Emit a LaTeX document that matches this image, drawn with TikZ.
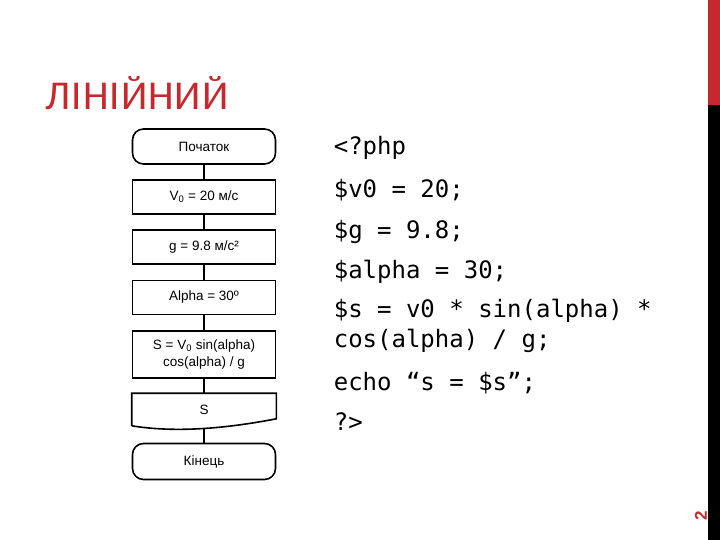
\documentclass[tikz,border=0pt]{standalone}
\usepackage{fontspec}
\setmainfont{Liberation Sans}
\newfontfamily\titlefont{Carlito}
\newfontfamily\codefont{DejaVu Sans Mono}
\usetikzlibrary{calc}
\definecolor{slidered}{RGB}{200,40,45}
\tikzset{
  flowterm/.style={draw,rounded corners=11pt,minimum width=143pt,minimum height=35pt,inner sep=1pt,font=\fontsize{13.5}{16}\selectfont},
  flowproc/.style={draw,minimum width=143pt,minimum height=34pt,inner sep=1pt,font=\fontsize{13.5}{17}\selectfont,align=center},
  flowdoc/.style={minimum width=143pt,minimum height=31pt,inner sep=1pt,font=\fontsize{13.5}{16}\selectfont},
  codeline/.style={anchor=base west,font=\codefont\fontsize{24}{30}\selectfont,inner sep=0pt,align=left}
}

\begin{document}
\begin{tikzpicture}[x=1pt,y=-1pt,line width=1.6pt]
        % slide frame and side bar
        \useasboundingbox (0,0) rectangle (720,540);
        \fill[slidered] (708,0) rectangle (720,105);
        \fill[black] (708,105) rectangle (720,540);
        \node[rotate=90,text=slidered,font=\bfseries\fontsize{17}{17}\selectfont,inner sep=0pt] (pagenum) at (701,516) {2};
        \node[anchor=base west,text=slidered,font=\titlefont\fontsize{41}{41}\selectfont,inner sep=0pt] (title) at (45,110) {Л\kern1ptІ\kern1ptН\kern1ptІ\kern1ptЙ\kern1ptН\kern1ptИ\kern1ptЙ};
        % flowchart
        \node[flowterm] (start) at (204,146.5) {Початок};
        \node[flowproc] (v0) at (204,197) {V\textsubscript{0} = 20 м/с};
        \node[flowproc] (grav) at (204,247) {g = 9.8 м/с²};
        \node[flowproc] (alpha) at (204,297.5) {Alpha = 30º};
        \node[flowproc,minimum height=47pt] (dist) at (204,354.5) {S = V\textsubscript{0} sin(alpha)\\cos(alpha) / g};
        \node[flowdoc] (out) at (204,409.5) {S};
        \node[flowterm,minimum height=36pt] (finish) at (204,461.5) {Кінець};
        \draw (out.south west) -- (out.north west) -- (out.north east) -- ($(out.south east)+(0,-7)$)
          .. controls ($(out.south west)+(93,3)$) and ($(out.south west)+(43,7)$) .. (out.south west);
        \draw (start) -- (v0);
        \draw (v0) -- (grav);
        \draw (grav) -- (alpha);
        \draw (alpha) -- (dist);
        \draw (dist) -- (out);
        \draw (out.south) ++(0,3) coordinate (outbot);
        \draw (outbot) -- (finish);
        % php listing
        \node[codeline] (l1) at (333,155) {<?php};
        \node[codeline] (l2) at (333,197) {\$v0 = 20;};
        \node[codeline] (l3) at (333,239) {\$g = 9.8;};
        \node[codeline] (l4) at (333,278) {\$alpha = 30;};
        \node[codeline] (l5) at (333,317) {\$s = v0 * sin(alpha) *};
        \node[codeline] (l6) at (333,347) {cos(alpha) / g;};
        \node[codeline] (l7) at (333,390) {echo “s = \$s”;};
        \node[codeline] (l8) at (333,430) {?>};
      \end{tikzpicture}
\end{document}
